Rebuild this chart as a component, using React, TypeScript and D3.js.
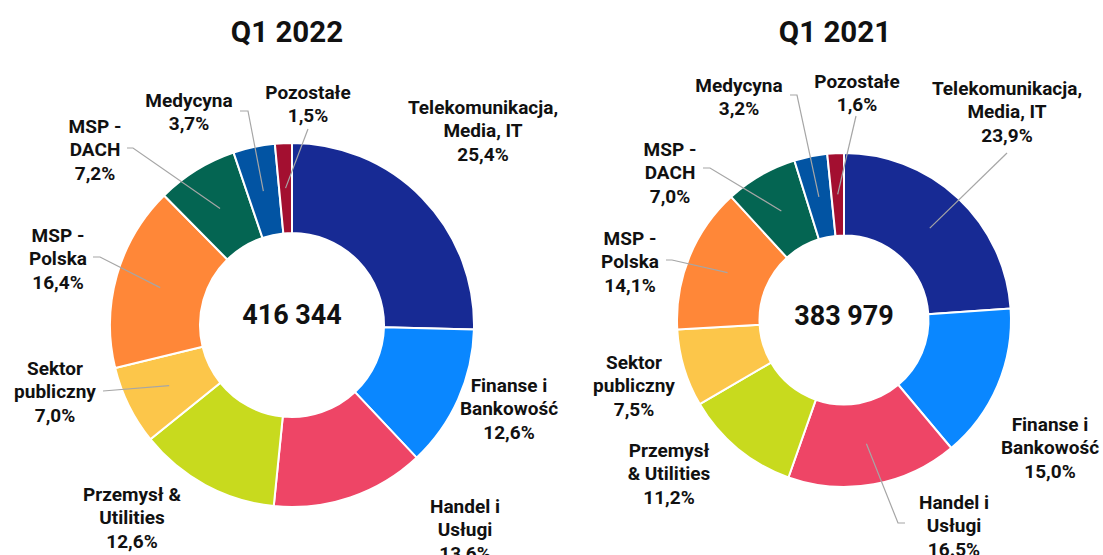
import React from 'react';
import * as d3 from 'd3';

const width = 1103;
const height = 555;

// categories in the order they are drawn (clockwise from 12 o'clock)
const categories = [
  'Telekomunikacja, Media, IT',
  'Finanse i Bankowość',
  'Handel i Usługi',
  'Przemysł & Utilities',
  'Sektor publiczny',
  'MSP - Polska',
  'MSP - DACH',
  'Medycyna',
  'Pozostałe',
];

const colors = ['#172a94', '#0a87ff', '#ee4566', '#c8da1e', '#fcc64a', '#ff8738', '#046552', '#0254a3', '#a30f30'];

const share2022 = [25.4, 12.6, 13.6, 12.6, 7.0, 16.4, 7.2, 3.7, 1.5];
const share2021 = [23.9, 15.0, 16.5, 11.2, 7.5, 14.1, 7.0, 3.2, 1.6];

const titles = ['Q1 2022', 'Q1 2021'];
const totals = [416344, 383979];

// label lines as printed on each chart
const labels2022 = [
  ['Telekomunikacja,', 'Media, IT', '25,4%'],
  ['Finanse i', 'Bankowość', '12,6%'],
  ['Handel i', 'Usługi', '13,6%'],
  ['Przemysł &', 'Utilities', '12,6%'],
  ['Sektor', 'publiczny', '7,0%'],
  ['MSP -', 'Polska', '16,4%'],
  ['MSP -', 'DACH', '7,2%'],
  ['Medycyna', '3,7%'],
  ['Pozostałe', '1,5%'],
];
const labels2021 = [
  ['Telekomunikacja,', 'Media, IT', '23,9%'],
  ['Finanse i', 'Bankowość', '15,0%'],
  ['Handel i', 'Usługi', '16.5%'],
  ['Przemysł', '& Utilities', '11,2%'],
  ['Sektor', 'publiczny', '7,5%'],
  ['MSP -', 'Polska', '14,1%'],
  ['MSP -', 'DACH', '7,0%'],
  ['Medycyna', '3,2%'],
  ['Pozostałe', '1,6%'],
];

// layout: label offsets from donut centre, leader start/knee points (end = slice centroid)
const layout2022 = {
  cx: 292, cy: 325, outer: 182, inner: 92, titleX: 287, centerDy: -10,
  labelPos: [[191, -218], [217, 60], [173, 181], [-160, 169], [-237, 43], [-234, -90], [-197, -199], [-103, -225], [16, -233]],
  leaders: [null, null, null, null, [[-189, 66]], [[-199, -68], [-192, -68]], [[-165, -177], [-159, -177]], [[-52, -214], [-44, -214]], [[16, -196]]],
};
const layout2021 = {
  cx: 844, cy: 320, outer: 167, inner: 84.5, titleX: 835, centerDy: -4,
  labelPos: [[163, -232], [206, 104], [110, 182], [-175, 130], [-210, 42], [-214, -82], [-174, -171], [-105, -235], [13, -239]],
  leaders: [[[163, -167]], null, [[61, 203], [54, 203]], null, null, [[-178, -60], [-172, -60]], [[-141, -152], [-134, -152]], [[-54, -225], [-47, -225]], [[12, -204]]],
};

const fontFamily = 'Roboto, "Noto Sans", sans-serif';
const lineHeight = 23.5;
const fmtTotal = (v: number) => d3.format(',')(v).replace(/,/g, ' ');

function Donut({ values, labels, layout, title, total }: any) {
  const pie = d3.pie<number>().sort(null).value(d => d);
  const arcs = pie(values);
  const arc = d3.arc<any>().innerRadius(layout.inner).outerRadius(layout.outer);
  const line = d3.line();

  return (
    <g>
      <text x={layout.titleX} y={42} textAnchor="middle" fontFamily={fontFamily} fontWeight={700} fontSize={29.5} fill="#111">
        {title}
      </text>
      <g transform={`translate(${layout.cx},${layout.cy})`}>
        {arcs.map((a, i) => (
          <path key={categories[i]} d={arc(a) as string} fill={colors[i]} stroke="#fff" strokeWidth={2} />
        ))}
        {arcs.map((a, i) => {
          const pts = layout.leaders[i];
          if (!pts) return null;
          const c = arc.centroid(a);
          return <path key={'l' + i} d={line([...pts, c]) as string} fill="none" stroke="#a6a6a6" strokeWidth={1.2} />;
        })}
        {labels.map((lines: string[], i: number) => {
          const [lx, ly] = layout.labelPos[i];
          return (
            <text key={'t' + i} textAnchor="middle" fontFamily={fontFamily} fontWeight={700} fontSize={19} fill="#111">
              {lines.map((s, j) => (
                <tspan key={j} x={lx} y={ly + j * lineHeight} dominantBaseline="central">{s}</tspan>
              ))}
            </text>
          );
        })}
        <text x={0} y={layout.centerDy} textAnchor="middle" dominantBaseline="central" fontFamily={fontFamily} fontWeight={700} fontSize={27} fill="#111">
          {fmtTotal(total)}
        </text>
      </g>
    </g>
  );
}

export default function App() {
  return (
    <svg width={width} height={height} style={{ position: 'absolute', left: 0, top: 0, background: '#fff' }}>
      <Donut values={share2022} labels={labels2022} layout={layout2022} title={titles[0]} total={totals[0]} />
      <Donut values={share2021} labels={labels2021} layout={layout2021} title={titles[1]} total={totals[1]} />
    </svg>
  );
}
